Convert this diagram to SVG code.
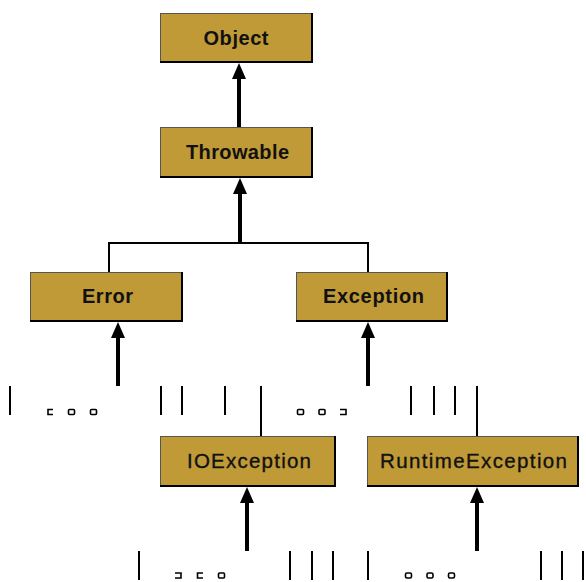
<svg xmlns="http://www.w3.org/2000/svg" width="586" height="582" viewBox="0 0 586 582">
<style>
.box{fill:#BF9A36;stroke:#555;stroke-width:1}
.sh{stroke:#000;stroke-width:2;fill:none}
.lbl{font-family:"Liberation Sans",Arial,sans-serif;font-size:20px;font-weight:bold;fill:#111;text-anchor:middle}
.reg{font-weight:normal;font-size:20.5px;stroke:#111;stroke-width:0.35}
.thick{stroke:#000;stroke-width:4;fill:none}
.thin{stroke:#000;stroke-width:2;fill:none}
.sq{stroke:#000;stroke-width:1.6;fill:none}
.ah{fill:#000}
</style>
<g id="connectors">
<line class="thick" x1="239" y1="127" x2="239" y2="78"/>
<polygon class="ah" points="239,63 232,79 246,79"/>
<line class="thick" x1="240" y1="243" x2="240" y2="192"/>
<polygon class="ah" points="240,178 233,194 247,194"/>
<polyline class="thin" points="109,272 109,243 368,243 368,272"/>
<line class="thick" x1="118" y1="386" x2="118" y2="336"/>
<polygon class="ah" points="118,322 111,338 125,338"/>
<line class="thick" x1="368" y1="386" x2="368" y2="336"/>
<polygon class="ah" points="368,322 361,338 375,338"/>
<line class="thin" x1="261" y1="386" x2="261" y2="436"/>
<line class="thin" x1="477" y1="386" x2="477" y2="436"/>
<line class="thick" x1="247" y1="551" x2="247" y2="501"/>
<polygon class="ah" points="247,487 240,503 254,503"/>
<line class="thick" x1="477" y1="551" x2="477" y2="501"/>
<polygon class="ah" points="477,487 470,503 484,503"/>
</g>
<g id="fragments">
<line class="thin" x1="10" y1="386" x2="10" y2="415"/>
<line class="thin" x1="161" y1="386" x2="161" y2="415"/>
<line class="thin" x1="182" y1="386" x2="182" y2="415"/>
<line class="thin" x1="225" y1="386" x2="225" y2="415"/>
<line class="thin" x1="411" y1="386" x2="411" y2="415"/>
<line class="thin" x1="434" y1="386" x2="434" y2="415"/>
<line class="thin" x1="455" y1="386" x2="455" y2="415"/>
<path class="sq" d="M53,409.5 H48 V414.5 H53"/>
<rect class="sq" x="68.5" y="409.5" width="6" height="5" rx="1"/>
<rect class="sq" x="90.5" y="409.5" width="6" height="5" rx="1"/>
<rect class="sq" x="297.5" y="409.5" width="6" height="5" rx="1"/>
<rect class="sq" x="319" y="409.5" width="6" height="5" rx="1"/>
<path class="sq" d="M340,409.5 H346 V414.5 H340"/>
<line class="thin" x1="139" y1="551" x2="139" y2="580"/>
<line class="thin" x1="290" y1="551" x2="290" y2="580"/>
<line class="thin" x1="312" y1="551" x2="312" y2="580"/>
<line class="thin" x1="333" y1="551" x2="333" y2="580"/>
<line class="thin" x1="368" y1="551" x2="368" y2="580"/>
<line class="thin" x1="541" y1="551" x2="541" y2="580"/>
<line class="thin" x1="562" y1="551" x2="562" y2="580"/>
<line class="thin" x1="583" y1="551" x2="583" y2="580"/>
<path class="sq" d="M175,573 H181 V578 H175"/>
<path class="sq" d="M203,573 H197.5 V578 H203"/>
<rect class="sq" x="218.5" y="573" width="6" height="5" rx="1"/>
<rect class="sq" x="405.5" y="573" width="6" height="5" rx="1.5"/>
<rect class="sq" x="427" y="573" width="6" height="5" rx="1.5"/>
<rect class="sq" x="448.5" y="573" width="6" height="5" rx="1.5"/>
</g>
<g id="object">
<rect class="box" x="160.5" y="13.5" width="152" height="49"/>
<polyline class="sh" points="160,62 312,62 312,13"/>
<text class="lbl" x="236" y="45" textLength="65" lengthAdjust="spacing">Object</text>
</g>
<g id="throwable">
<rect class="box" x="160.5" y="127.5" width="152" height="50"/>
<polyline class="sh" points="160,177 312,177 312,127"/>
<text class="lbl" x="237.5" y="159" textLength="103" lengthAdjust="spacing">Throwable</text>
</g>
<g id="error">
<rect class="box" x="30.5" y="272.5" width="152" height="49"/>
<polyline class="sh" points="30,321 182,321 182,272"/>
<text class="lbl" x="107.5" y="303" textLength="51" lengthAdjust="spacing">Error</text>
</g>
<g id="exception">
<rect class="box" x="296.5" y="272.5" width="151" height="49"/>
<polyline class="sh" points="296,321 447,321 447,272"/>
<text class="lbl" x="373.5" y="303" textLength="101" lengthAdjust="spacing">Exception</text>
</g>
<g id="ioexception">
<rect class="box" x="160.5" y="436.5" width="175" height="50"/>
<polyline class="sh" points="160,486 335,486 335,436"/>
<text class="lbl reg" x="249" y="468" textLength="124" lengthAdjust="spacing">IOException</text>
</g>
<g id="runtimeexception">
<rect class="box" x="367.5" y="436.5" width="211" height="50"/>
<polyline class="sh" points="367,486 578,486 578,436"/>
<text class="lbl reg" x="473.5" y="468" textLength="187" lengthAdjust="spacing">RuntimeException</text>
</g>
</svg>
